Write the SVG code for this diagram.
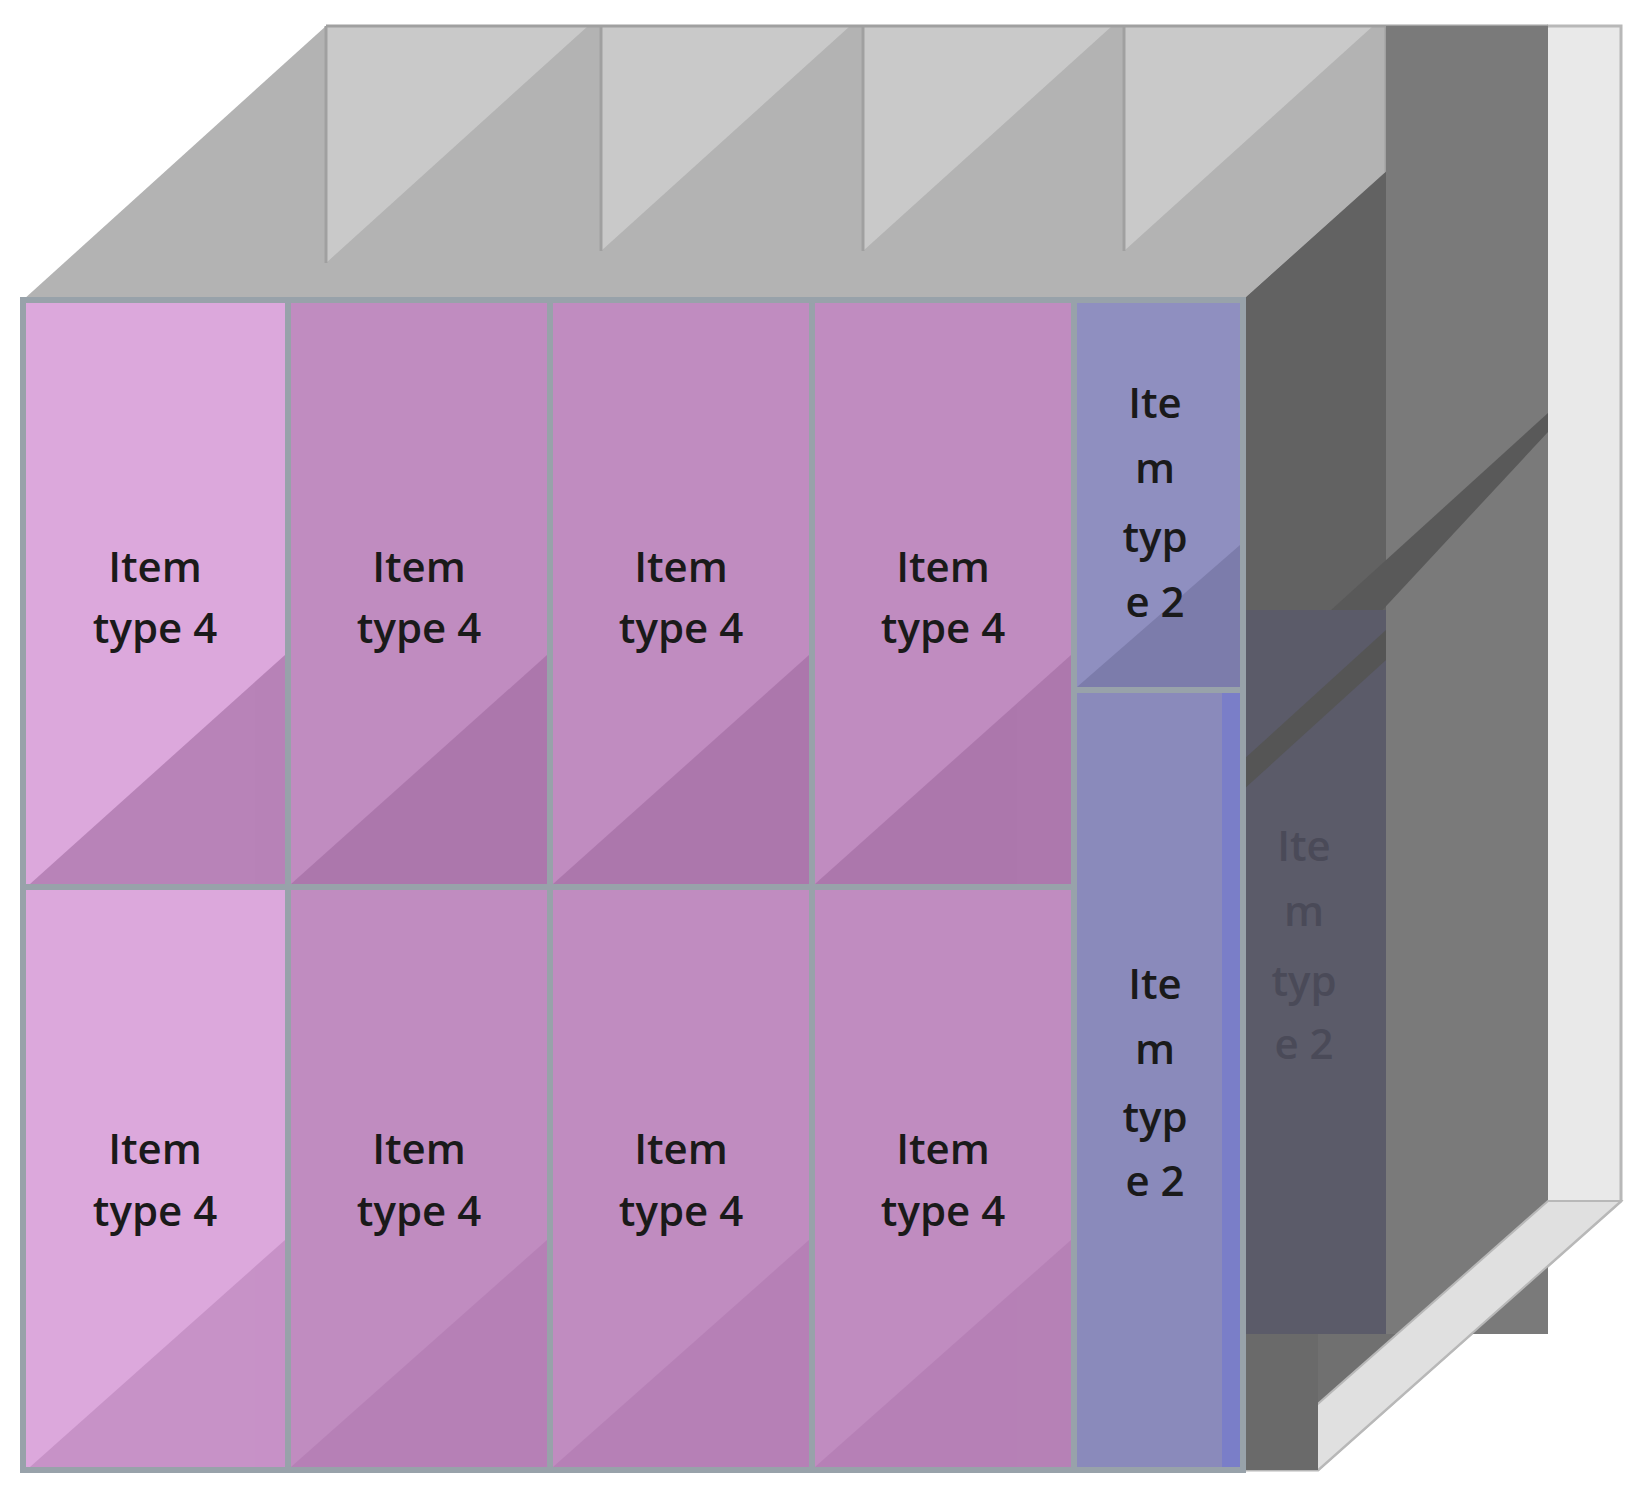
<svg xmlns="http://www.w3.org/2000/svg" width="1640" height="1498" viewBox="0 0 1640 1498">
<style>
.t{font-family:"Open Sans","DejaVu Sans",sans-serif;font-size:42px;font-weight:600;text-anchor:middle;fill:#1a1a1a}
.d{fill:#4a4a58}
.cell{stroke:#98a2aa;stroke-width:6}
</style>
<rect width="1640" height="1498" fill="#fff"/>
<g id="box-right">
<polygon points="1548,26 1621,26 1621,1201 1318,1470 1243,1470 1243,300" fill="#e9e9e9" stroke="#b8b8b8" stroke-width="3"/>
</g>
<g id="top">
<polygon points="23,300 1243,300 1548,26 326,26" fill="#b3b3b3"/>
<polygon points="326,26 588,26 326,263" fill="#c9c9c9"/>
<polygon points="601,26 850,26 601,251" fill="#c9c9c9"/>
<polygon points="863,26 1112,26 863,251" fill="#c9c9c9"/>
<polygon points="1124,26 1373,26 1124,251" fill="#c9c9c9"/>
<polygon points="1386,26 1548,26 1386,172" fill="#c9c9c9"/>
<g stroke="#a0a0a0" stroke-width="3">
<line x1="326" y1="26" x2="326" y2="263"/><line x1="601" y1="26" x2="601" y2="251"/>
<line x1="863" y1="26" x2="863" y2="251"/><line x1="1124" y1="26" x2="1124" y2="251"/>
<line x1="1386" y1="26" x2="1386" y2="172"/>
<line x1="326" y1="26" x2="1548" y2="26"/>
</g>
</g>
<g id="side">
<polygon points="1243,300 1548,26 1548,1201 1243,1470" fill="#707070"/>
<rect x="1386" y="26" width="162" height="1308" fill="#7a7a7a"/>
<polygon points="1243,300 1386,172 1386,1334 1243,1334" fill="#626262"/>
<polygon points="1243,690 1548,413 1548,432 1243,760" fill="#595959"/>
<rect x="1243" y="610" width="143" height="724" fill="#5b5b69"/>
<polygon points="1243,760 1386,630 1386,660 1243,790" fill="#555"/>
<polygon points="1243,1470 1318,1470 1621,1201 1548,1201" fill="#e0e0e0" stroke="#b8b8b8" stroke-width="2"/>
<rect x="1243" y="1334" width="75" height="136" fill="#6a6a6a"/>
<text class="t d" x="1304" y="861">Ite</text>
<text class="t d" x="1304" y="926">m</text>
<text class="t d" x="1304" y="996">typ</text>
<text class="t d" x="1304" y="1059">e 2</text>
</g>
<g id="cells">
<rect class="cell" x="23" y="300" width="265" height="587" fill="#dca8dc"/>
<rect class="cell" x="288" y="300" width="262" height="587" fill="#c08cc0"/>
<rect class="cell" x="550" y="300" width="262" height="587" fill="#c08cc0"/>
<rect class="cell" x="812" y="300" width="262" height="587" fill="#c08cc0"/>
<rect class="cell" x="23" y="887" width="265" height="583" fill="#dca8dc"/>
<rect class="cell" x="288" y="887" width="262" height="583" fill="#c08cc0"/>
<rect class="cell" x="550" y="887" width="262" height="583" fill="#c08cc0"/>
<rect class="cell" x="812" y="887" width="262" height="583" fill="#c08cc0"/>
<g fill="#a06aa0" opacity="0.6">
<polygon points="30,884 285,884 285,655"/><polygon points="291,884 547,884 547,655"/>
<polygon points="553,884 809,884 809,655"/><polygon points="815,884 1071,884 1071,655"/>
</g>
<g fill="#a870a8" opacity="0.4">
<polygon points="30,1467 285,1467 285,1240"/><polygon points="291,1467 547,1467 547,1240"/>
<polygon points="553,1467 809,1467 809,1240"/><polygon points="815,1467 1071,1467 1071,1240"/>
</g>
<rect class="cell" x="1074" y="300" width="169" height="390" fill="#8f8fc0"/>
<polygon points="1077,687 1240,687 1240,545" fill="#7c7cab"/>
<rect class="cell" x="1074" y="690" width="169" height="780" fill="#8a8abb"/>
<rect x="1222" y="693" width="18" height="774" fill="#7a7ec8"/>
<text class="t" x="155" y="582">Item</text><text class="t" x="155" y="643">type 4</text>
<text class="t" x="419" y="582">Item</text><text class="t" x="419" y="643">type 4</text>
<text class="t" x="681" y="582">Item</text><text class="t" x="681" y="643">type 4</text>
<text class="t" x="943" y="582">Item</text><text class="t" x="943" y="643">type 4</text>
<text class="t" x="155" y="1164">Item</text><text class="t" x="155" y="1226">type 4</text>
<text class="t" x="419" y="1164">Item</text><text class="t" x="419" y="1226">type 4</text>
<text class="t" x="681" y="1164">Item</text><text class="t" x="681" y="1226">type 4</text>
<text class="t" x="943" y="1164">Item</text><text class="t" x="943" y="1226">type 4</text>
<text class="t" x="1155" y="418">Ite</text><text class="t" x="1155" y="483">m</text>
<text class="t" x="1155" y="552">typ</text><text class="t" x="1155" y="617">e 2</text>
<text class="t" x="1155" y="999">Ite</text><text class="t" x="1155" y="1064">m</text>
<text class="t" x="1155" y="1132">typ</text><text class="t" x="1155" y="1196">e 2</text>
</g>
</svg>
